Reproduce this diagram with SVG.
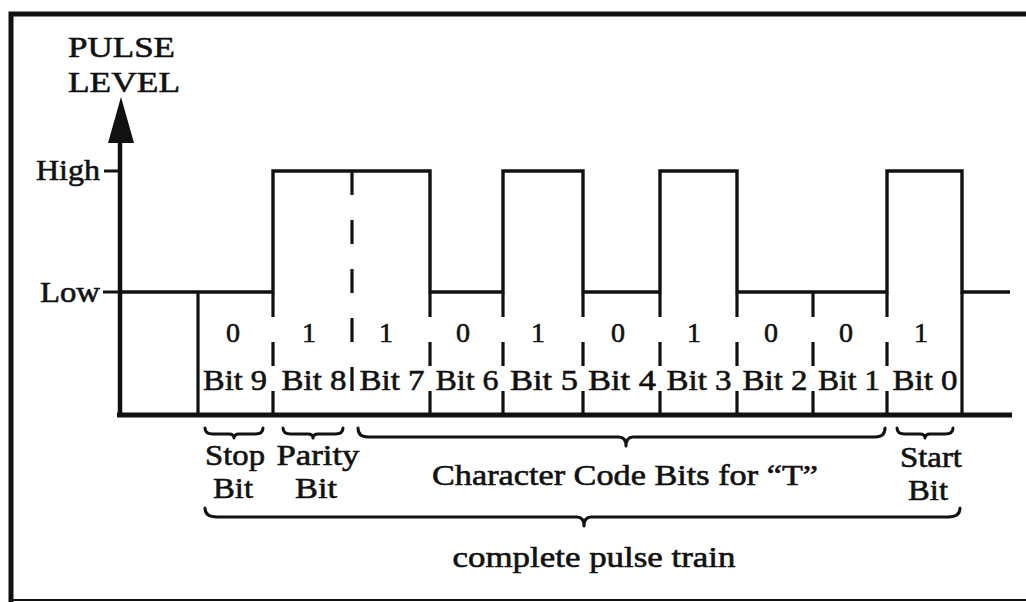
<svg xmlns="http://www.w3.org/2000/svg" width="1026" height="602" viewBox="0 0 1026 602">
  <style>
    text { font-family: "Liberation Serif", "Times New Roman", serif; fill: #111; stroke: #111; stroke-width: 0.6; }
    .lbl { font-size: 30px; }
    .dig { font-size: 28px; text-anchor: middle; }
    .bit { font-size: 30px; text-anchor: middle; }
    .mid { text-anchor: middle; }
    .wave { fill: none; stroke: #111; stroke-width: 3.4; stroke-linejoin: miter; }
    .solid { fill: none; stroke: #111; stroke-width: 3.2; }
    .dash { fill: none; stroke: #111; stroke-width: 3.2; stroke-dasharray: 24 25; }
    .brace { fill: none; stroke: #111; stroke-width: 3; stroke-linecap: round; stroke-linejoin: round; }
  </style>

  <rect width="1026" height="602" fill="#fff"/>

  <!-- frame -->
  <g id="frame" fill="none" stroke="#111">
    <path d="M 11 602 V 14 H 1026" stroke-width="5"/>
    <path d="M 11 600 H 1026" stroke-width="2"/>
  </g>

  <!-- vertical axis with arrow, time baseline and level ticks -->
  <g id="axis">
    <path d="M 120 142 V 417" fill="none" stroke="#111" stroke-width="4.5"/>
    <polygon points="121,97 108,143 134,143" fill="#111"/>
    <path d="M 117 415 H 1012" fill="none" stroke="#111" stroke-width="5"/>
    <path d="M 104 171 H 120 M 103 292 H 120" fill="none" stroke="#111" stroke-width="3"/>
    <text class="lbl" x="68" y="57" textLength="107" lengthAdjust="spacingAndGlyphs">PULSE</text>
    <text class="lbl" x="68" y="92" textLength="112" lengthAdjust="spacingAndGlyphs">LEVEL</text>
    <text class="lbl" x="36" y="180" textLength="64" lengthAdjust="spacingAndGlyphs">High</text>
    <text class="lbl" x="40" y="302" textLength="60" lengthAdjust="spacingAndGlyphs">Low</text>
  </g>

  <!-- pulse waveform -->
  <g id="waveform">
    <path class="wave" d="M 120 292 H 273 V 171 H 430 V 292 H 503 V 171 H 583 V 292 H 660 V 171 H 737 V 292 H 887 V 171 H 962 V 292 H 1010"/>
  </g>

  <!-- bit cell dividers -->
  <g id="dividers">
    <path class="solid" d="M 198 292 V 415"/>
    <path class="solid" d="M 962 292 V 415"/>
    <path class="dash" d="M 352 171 V 395"/>
    <path class="dash" d="M 273 293 V 415"/>
    <path class="dash" d="M 430 293 V 415"/>
    <path class="dash" d="M 503 293 V 415"/>
    <path class="dash" d="M 583 293 V 415"/>
    <path class="dash" d="M 660 293 V 415"/>
    <path class="dash" d="M 737 293 V 415"/>
    <path class="dash" d="M 813 293 V 415"/>
    <path class="dash" d="M 887 293 V 415"/>
  </g>

  <!-- bit values -->
  <g id="values">
    <text class="dig" x="233" y="342">0</text>
    <text class="dig" x="309" y="342">1</text>
    <text class="dig" x="386" y="342">1</text>
    <text class="dig" x="463" y="342">0</text>
    <text class="dig" x="538" y="342">1</text>
    <text class="dig" x="618" y="342">0</text>
    <text class="dig" x="694" y="342">1</text>
    <text class="dig" x="771" y="342">0</text>
    <text class="dig" x="846" y="342">0</text>
    <text class="dig" x="921" y="342">1</text>
  </g>

  <!-- bit names -->
  <g id="bit-names">
    <text class="bit" x="235" y="390" textLength="64" lengthAdjust="spacingAndGlyphs">Bit 9</text>
    <text class="bit" x="314" y="390" textLength="65" lengthAdjust="spacingAndGlyphs">Bit 8</text>
    <text class="bit" x="392" y="390" textLength="65" lengthAdjust="spacingAndGlyphs">Bit 7</text>
    <text class="bit" x="467" y="390" textLength="63" lengthAdjust="spacingAndGlyphs">Bit 6</text>
    <text class="bit" x="544" y="390" textLength="68" lengthAdjust="spacingAndGlyphs">Bit 5</text>
    <text class="bit" x="622" y="390" textLength="68" lengthAdjust="spacingAndGlyphs">Bit 4</text>
    <text class="bit" x="699" y="390" textLength="65" lengthAdjust="spacingAndGlyphs">Bit 3</text>
    <text class="bit" x="775" y="390" textLength="65" lengthAdjust="spacingAndGlyphs">Bit 2</text>
    <text class="bit" x="849" y="390" textLength="62" lengthAdjust="spacingAndGlyphs">Bit 1</text>
    <text class="bit" x="925" y="390" textLength="65" lengthAdjust="spacingAndGlyphs">Bit 0</text>
  </g>

  <!-- group braces -->
  <g id="braces">
    <path class="brace" d="M 205 428 q 0 6 8 6 H 229 q 5 0 5 4 q 0 -4 5 -4 H 255 q 8 0 8 -6"/>
    <path class="brace" d="M 283 428 q 0 6 8 6 H 308 q 5 0 5 4 q 0 -4 5 -4 H 335 q 8 0 8 -6"/>
    <path class="brace" d="M 358 428 q 0 9 10 9 H 619 q 7 0 7 9 q 0 -9 7 -9 H 875 q 10 0 10 -9"/>
    <path class="brace" d="M 897 428 q 0 6 8 6 H 920 q 5 0 5 4 q 0 -4 5 -4 H 945 q 8 0 8 -6"/>
    <path class="brace" d="M 205 508 q 0 9 12 9 H 577 q 7 0 7 9 q 0 -9 7 -9 H 948 q 12 0 12 -9"/>
  </g>

  <!-- group captions -->
  <g id="captions">
    <text class="lbl mid" x="235" y="465" textLength="60" lengthAdjust="spacingAndGlyphs">Stop</text>
    <text class="lbl mid" x="233" y="498" textLength="40" lengthAdjust="spacingAndGlyphs">Bit</text>
    <text class="lbl mid" x="318" y="465" textLength="83" lengthAdjust="spacingAndGlyphs">Parity</text>
    <text class="lbl mid" x="316" y="498" textLength="42" lengthAdjust="spacingAndGlyphs">Bit</text>
    <text class="lbl mid" x="625" y="485" textLength="386" lengthAdjust="spacingAndGlyphs">Character Code Bits for “T”</text>
    <text class="lbl mid" x="931" y="467" textLength="62" lengthAdjust="spacingAndGlyphs">Start</text>
    <text class="lbl mid" x="928" y="500" textLength="40" lengthAdjust="spacingAndGlyphs">Bit</text>
    <text class="lbl mid" x="594" y="567" textLength="283" lengthAdjust="spacingAndGlyphs">complete pulse train</text>
  </g>
</svg>
